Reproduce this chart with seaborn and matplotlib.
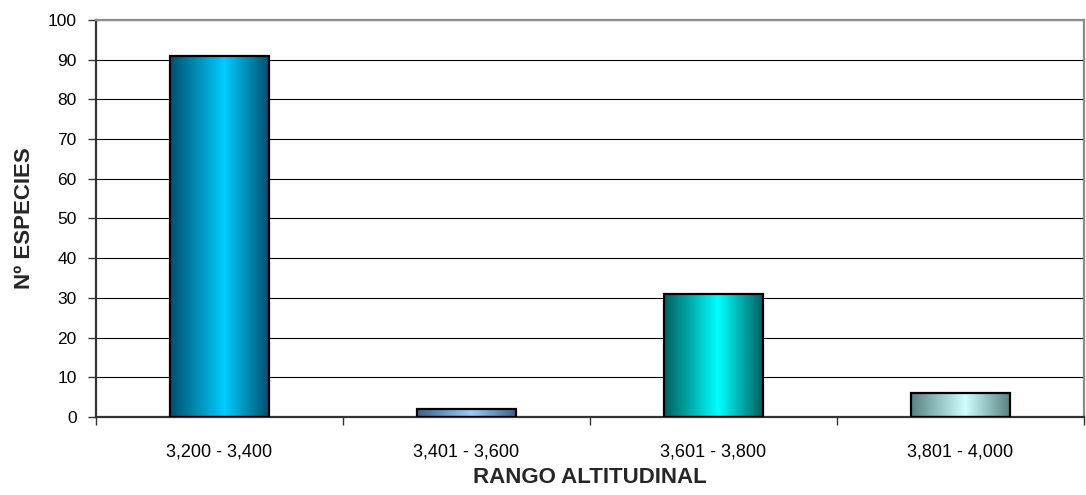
import numpy as np
import pandas as pd
import matplotlib
matplotlib.use("Agg")
import matplotlib.pyplot as plt
from matplotlib.colors import LinearSegmentedColormap
import seaborn as sns

# Species counts per altitude band
rangos = ["3,200 - 3,400", "3,401 - 3,600", "3,601 - 3,800", "3,801 - 4,000"]
especies = [91, 2, 31, 6]

# (edge colour, centre colour) of each bar's horizontal gradient
gradientes = [
    ("#00506e", "#00ccff"),
    ("#3a6488", "#99ccff"),
    ("#005f5f", "#00ffff"),
    ("#5a8282", "#ccffff"),
]

y_ticks = list(range(0, 101, 10))

sns.set_theme(style="white")
plt.rcParams["font.family"] = ["Liberation Sans", "DejaVu Sans"]

df = pd.DataFrame({"rango": rangos, "especies": especies})

fig = plt.figure(figsize=(10.86, 4.95), dpi=100)
ax = fig.add_axes([0.0884, 0.1576, 0.9098, 0.802])

sns.barplot(data=df, x="rango", y="especies", order=rangos, width=0.4,
            color="white", edgecolor="black", linewidth=1.6, ax=ax,
            saturation=1, zorder=3)

# Fill each bar with a dark-bright-dark horizontal gradient
profile_x = np.linspace(0, 1, 256)
peak = 0.55
profile = np.where(profile_x < peak, profile_x / peak, (1 - profile_x) / (1 - peak))
for patch, (dark, bright) in zip(ax.patches, gradientes):
    patch.set_facecolor("none")
    x0, y0 = patch.get_x(), patch.get_y()
    w, h = patch.get_width(), patch.get_height()
    cmap = LinearSegmentedColormap.from_list("g", [dark, bright])
    img = ax.imshow(profile[np.newaxis, :], cmap=cmap, vmin=0, vmax=1,
                    extent=(x0, x0 + w, y0, y0 + h), aspect="auto",
                    interpolation="bilinear", zorder=2)
    img.set_clip_path(patch)

ax.set_xlim(-0.5, len(rangos) - 0.5)
ax.set_ylim(0, 100)
ax.set_yticks(y_ticks)

# Ticks on category boundaries, labels centred under each bar
ax.set_xticks(np.arange(-0.5, len(rangos), 1.0))
ax.set_xticklabels([])
ax.set_xticks(np.arange(len(rangos)), minor=True)
ax.set_xticklabels(rangos, minor=True)
ax.tick_params(axis="x", which="major", length=6, width=1, color="#333333",
               direction="out", bottom=True)
ax.tick_params(axis="x", which="minor", length=0, pad=19, labelsize=13,
               labelcolor="black")
ax.tick_params(axis="y", length=6, width=1, color="#333333", direction="out",
               left=True, pad=8, labelsize=12.5, labelcolor="black")

ax.grid(axis="y", color="black", linewidth=0.8)
ax.grid(axis="x", visible=False)
ax.set_axisbelow(True)

for side in ("left", "bottom"):
    ax.spines[side].set_color("#333333")
    ax.spines[side].set_linewidth(1.6)
for side in ("top", "right"):
    ax.spines[side].set_color("#8c8c8c")
    ax.spines[side].set_linewidth(1.6)

ax.set_xlabel("RANGO ALTITUDINAL", fontsize=16, fontweight="bold", labelpad=5)
ax.set_ylabel("Nº ESPECIES", fontsize=16, fontweight="bold", labelpad=9)

fig.savefig("out.png", dpi=100, facecolor="white")
